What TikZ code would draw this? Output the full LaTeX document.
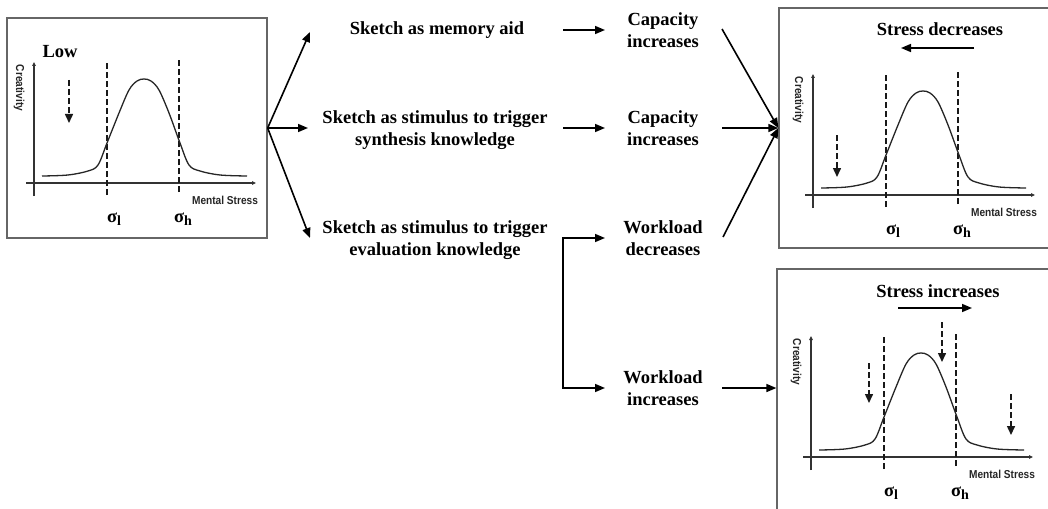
\documentclass[tikz,border=0pt]{standalone}
\usepackage{fontspec}
\setmainfont{Liberation Serif}
\setsansfont{Liberation Sans}
\newfontfamily\narrowsans[FakeStretch=0.88]{Liberation Sans}
\usetikzlibrary{arrows.meta}
\newcommand\sgm[1]{σ\raisebox{-3pt}{\fontsize{14}{14}\selectfont #1}}
\tikzset{
  lab/.style={font=\bfseries\fontsize{18.5}{22}\selectfont, inner sep=0pt, align=center},
  sanslab/.style={font=\narrowsans\bfseries\fontsize{11.5}{13}\selectfont, inner sep=0pt, text=black!85},
  siglab/.style={font=\bfseries\fontsize{18.5}{20}\selectfont, inner sep=0pt},
  box/.style={draw=black!60, line width=1.3pt},
  arr/.style={line width=1.6pt, -{Triangle[length=10pt,width=8pt]}},
  axln/.style={draw=black!80, line width=1.1pt, -{Triangle[length=4pt,width=3.5pt]}},
  dsh/.style={draw=black!90, line width=1.5pt, dash pattern=on 6pt off 3pt},
  darr/.style={dsh, -{Triangle[length=9pt,width=8pt]}},
  curve/.style={draw=black!85, line width=1.3pt},
  graph/.pic={
    \draw[axln] (0,13) -- (0,-121);
    \draw[axln] (-8,0) -- (222,0);
    \draw[dsh] (73,12) -- (73,-122);
    \draw[dsh] (145,9) -- (145,-124);
    \draw[curve] plot[smooth, tension=0.55] coordinates {(8,-7) (34,-8) (54,-12) (64,-18) (73,-40) (85,-70) (95,-93) (103,-102) (110,-104) (117,-102) (125,-93) (135,-70) (146,-40) (155,-18) (166,-12) (186,-8) (213,-7)};
    \node[sanslab, rotate=-90] (-cre) at (-15,-95) {Creativity};
    \node[sanslab] (-ms) at (191,17) {Mental Stress};
    \node[siglab] (-sl) at (80,36) {\sgm{l}};
    \node[siglab] (-sh) at (149,36) {\sgm{h}};
  }
}
\begin{document}
\begin{tikzpicture}[x=1pt, y=-1pt]
\useasboundingbox (0,0) rectangle (1048,508);
\clip (0,0) rectangle (1048,508);
\fill[white] (0,0) rectangle (1048,508);

% boxes
\node[box, minimum width=260pt, minimum height=220pt, inner sep=0pt] (g0) at (137,128) {};
\node[box, minimum width=276pt, minimum height=240pt, inner sep=0pt] (g1) at (917,128) {};
\node[box, minimum width=278pt, minimum height=246pt, inner sep=0pt] (g2) at (916,392) {};

% graphs
\pic (p0) at (34,183) {graph};
\pic (p1) at (813,195) {graph};
\pic (p2) at (811,457) {graph};

% labels in graphs
\node[lab, anchor=base] (low) at (60,58) {Low};
\node[lab, anchor=base] (sdec) at (940,36) {Stress decreases};
\node[lab, anchor=base] (sinc) at (938,297) {Stress increases};

\coordinate (sd1) at (974,48);
\coordinate (sd2) at (901,48);
\draw[arr] (sd1) -- (sd2);
\coordinate (si1) at (898,308);
\coordinate (si2) at (972,308);
\draw[arr] (si1) -- (si2);

% dashed arrows
\coordinate (d0a) at (69,80);  \coordinate (d0b) at (69,123);
\draw[darr] (d0a) -- (d0b);
\coordinate (d1a) at (837,135); \coordinate (d1b) at (837,177);
\draw[darr] (d1a) -- (d1b);
\coordinate (d2a) at (869,363); \coordinate (d2b) at (869,403);
\draw[darr] (d2a) -- (d2b);
\coordinate (d3a) at (942,322); \coordinate (d3b) at (942,362);
\draw[darr] (d3a) -- (d3b);
\coordinate (d4a) at (1011,394); \coordinate (d4b) at (1011,435);
\draw[darr] (d4a) -- (d4b);

% middle texts
\node[lab, anchor=base] (sk1) at (437,35) {Sketch as memory aid};
\node[lab, anchor=north] (sk2) at (435,110) {Sketch as stimulus to trigger\\synthesis knowledge};
\node[lab, anchor=north] (sk3) at (435,220) {Sketch as stimulus to trigger\\evaluation knowledge};
\node[lab, anchor=north] (cap1) at (663,12) {Capacity\\increases};
\node[lab, anchor=north] (cap2) at (663,110) {Capacity\\increases};
\node[lab, anchor=north] (wd) at (663,220) {Workload\\decreases};
\node[lab, anchor=north] (wi) at (663,370) {Workload\\increases};

% fan arrows
\coordinate (t1) at (310,32);
\coordinate (t2) at (308,128);
\coordinate (t3) at (310,238);
\draw[arr] (g0.east) -- (t1);
\draw[arr] (g0.east) -- (t2);
\draw[arr] (g0.east) -- (t3);

% sketch -> capacity
\coordinate (a1s) at (563,30);  \coordinate (a1e) at (605,30);
\coordinate (a2s) at (563,128); \coordinate (a2e) at (605,128);
\draw[arr] (a1s) -- (a1e);
\draw[arr] (a2s) -- (a2e);

% elbow
\coordinate (e1) at (605,238);
\coordinate (e2) at (563,238);
\coordinate (e3) at (563,388);
\coordinate (e4) at (605,388);
\draw[line width=1.6pt, {Triangle[length=10pt,width=8pt]}-{Triangle[length=10pt,width=8pt]}] (e1) -- (e2) -- (e3) -- (e4);

% workload increases -> bottom graph
\coordinate (w1) at (722,388);
\draw[arr] (w1) -- (w1 -| g2.west);

% converging arrows
\coordinate (c1) at (722,29);
\coordinate (c2) at (722,128);
\coordinate (c3) at (723,237);
\draw[arr] (c1) -- (g1.west);
\draw[arr] (c2) -- (g1.west);
\draw[arr] (c3) -- (g1.west);
\end{tikzpicture}
\end{document}
